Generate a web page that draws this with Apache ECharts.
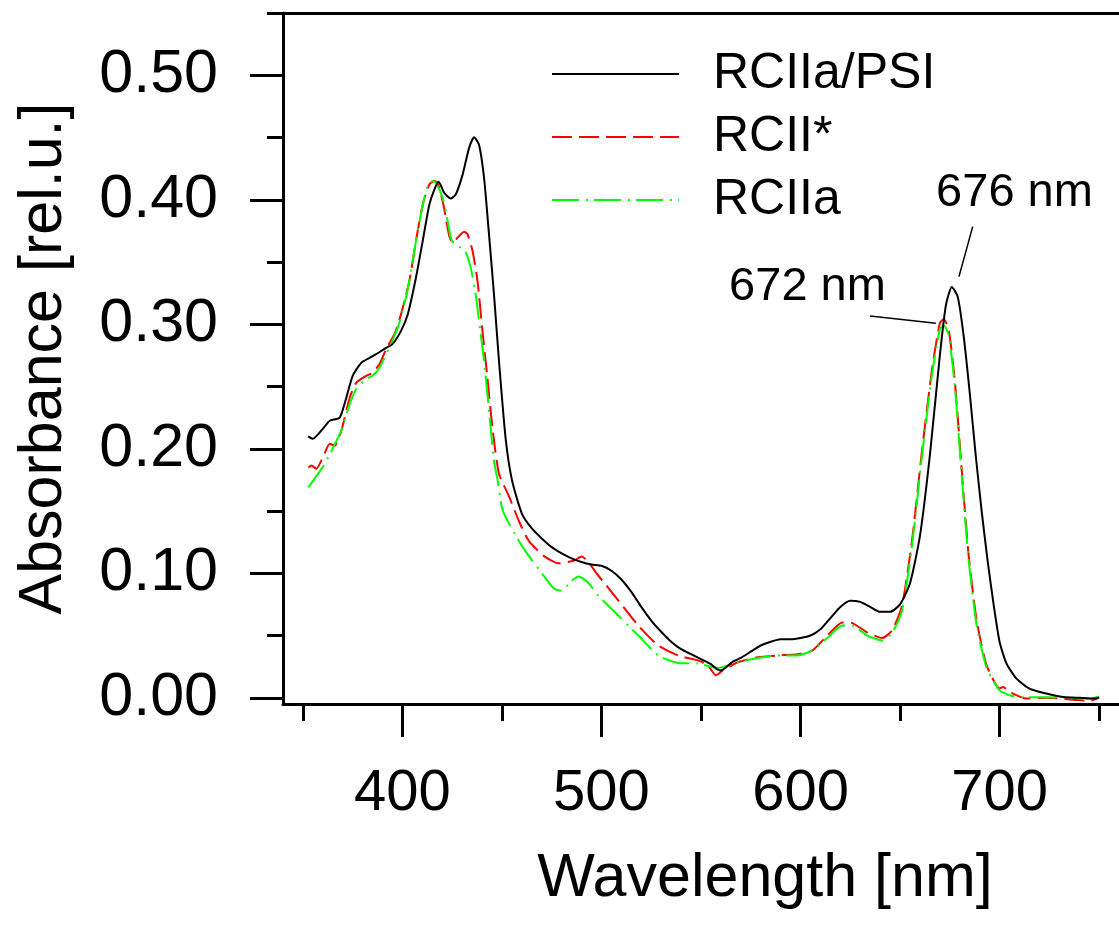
<!DOCTYPE html>
<html>
<head>
<meta charset="utf-8">
<script src="https://cdn.jsdelivr.net/npm/echarts@6/dist/echarts.min.js"></script>
<style>
html,body{margin:0;padding:0;background:#fff;}
#chart{width:1119px;height:941px;}
</style>
</head>
<body>
<div id="chart"></div>
<script>
// ---- Data ----
const seriesNames = ['RCIIa/PSI', 'RCII*', 'RCIIa'];

const psiNm = [352.7,355,360,363.5,368.5,371.8,375,379.3,383.5,386.8,391.8,395,399.3,402.7,406.8,410.2,413.5,416,418.2,421,424.3,426.8,430.2,433.5,436,438.5,441,443.5,446,448.5,451.8,455,460,465,470,475,480,485,490,495,500,505,510,515,520,525,530,535,540,545,550,555,558,560,563,566,570,575,580,585,590,595,600,605,610,615,620,625,630,635,640,645,650,655,660,665,670,673,676,679,682,685,688,691,694,697,700,703.5,708.5,715,723.5,732,740,748.5,750];
const psiAbs = [0.210,0.208,0.216,0.2225,0.225,0.241,0.2586,0.269,0.273,0.276,0.281,0.284,0.2947,0.308,0.3375,0.367,0.396,0.408,0.4144,0.4056,0.401,0.4043,0.420,0.4417,0.4503,0.444,0.4177,0.372,0.324,0.2707,0.209,0.175,0.148,0.136,0.128,0.121,0.116,0.112,0.109,0.107,0.106,0.102,0.095,0.085,0.073,0.062,0.053,0.045,0.039,0.035,0.031,0.027,0.023,0.022,0.025,0.029,0.032,0.037,0.042,0.045,0.047,0.047,0.048,0.050,0.055,0.064,0.073,0.078,0.077,0.073,0.069,0.069,0.075,0.092,0.130,0.195,0.275,0.315,0.330,0.322,0.290,0.245,0.195,0.150,0.110,0.075,0.045,0.0274,0.0154,0.0074,0.0034,0.0006,0.0,-0.0006,0.0004];

const rc2Nm = [352.7,354.3,356.8,360,363.5,366,369.3,373.5,376.8,381.8,385,388.5,391.8,396,399.3,403.5,406.8,410.2,413.5,416,417.7,420.2,421.8,423.5,425.2,426.8,429.3,431,432.7,435.2,437.7,440.2,442.7,445.2,448.5,453.5,458.5,463.5,471,478.5,486,490,498.5,508.5,518.5,528.5,538.5,548.5,553.5,557.5,561,568.5,578.5,588.5,598.5,606,613.5,621,626,633.5,641,646,651,656,661,666,670,672,674.5,677.5,681,684.5,688.5,693.5,700,701.8,705,713.5,723.5,737,745,750];
const rc2Abs = [0.185,0.1865,0.184,0.193,0.204,0.2025,0.2145,0.241,0.253,0.2586,0.261,0.268,0.280,0.292,0.308,0.335,0.367,0.396,0.4123,0.415,0.4136,0.399,0.3856,0.371,0.3655,0.368,0.3723,0.3743,0.3723,0.359,0.335,0.2947,0.257,0.217,0.180,0.162,0.142,0.126,0.114,0.108,0.110,0.1135,0.098,0.078,0.058,0.042,0.034,0.030,0.026,0.018,0.022,0.0285,0.0325,0.034,0.035,0.038,0.050,0.0605,0.060,0.0525,0.048,0.054,0.074,0.126,0.198,0.263,0.301,0.304,0.295,0.2546,0.1825,0.114,0.062,0.026,0.0076,0.0087,0.0047,-0.0006,0.0,-0.0015,-0.0026,0.0004];

const rc2aNm = [352.7,356.8,361,365.2,369.3,373.5,376.8,381.8,385,388.5,391.8,395,399.3,403.5,406.8,410.2,412.7,415.2,416.8,420.2,422.7,424.3,426,429.3,431.8,434.3,436.8,438.5,441,443.5,446,447.7,450.5,458.5,463.5,471,476,480,485,488.5,493,498.5,508.5,518.5,528.5,538.5,548.5,558.5,568.5,578.5,588.5,598.5,606,613.5,621,626,633.5,641,646,651,656,661,666,670,672,674.5,677.5,681,684.5,688.5,693.5,700,705,713.5,723.5,737,745,750];
const rc2aAbs = [0.169,0.178,0.188,0.201,0.2145,0.236,0.248,0.256,0.2586,0.265,0.276,0.2867,0.3054,0.335,0.367,0.396,0.411,0.415,0.4136,0.4016,0.383,0.3695,0.3643,0.3615,0.3575,0.3455,0.324,0.3027,0.2707,0.2306,0.190,0.1758,0.150,0.126,0.114,0.098,0.088,0.086,0.094,0.0975,0.093,0.082,0.066,0.050,0.034,0.028,0.0275,0.024,0.0285,0.032,0.034,0.034,0.038,0.048,0.058,0.058,0.050,0.046,0.052,0.070,0.122,0.194,0.259,0.296,0.299,0.291,0.2506,0.1785,0.110,0.058,0.024,0.006,0.002,0.0004,0.0004,0.0,-0.001,0.001];

const xMajorTicks = [400, 500, 600, 700];
const xMinorTicks = [350, 450, 550, 650, 750];
const yMajorTicks = [0, 0.1, 0.2, 0.3, 0.4, 0.5];
const yMinorTicks = [0.05, 0.15, 0.25, 0.35, 0.45, 0.55];

const peakLabels = ['676 nm', '672 nm'];
const peakLabelAt = [[707.5, 0.405], [603.5, 0.330]];
const peakLeaders = [[[686.5, 0.3784], [679.6, 0.3383]], [[634.9, 0.3067], [668.0, 0.3009]]];

// ---- Build ----
const FONT = 'Liberation Sans';
const zip = (xs, ys) => xs.map((x, i) => [x, ys[i]]);
const axisLineStyle = { color: '#000', width: 3 };

const chart = echarts.init(document.getElementById('chart'), null, { renderer: 'canvas' });

const option = {
  backgroundColor: '#fff',
  animation: false,
  grid: { left: 283, top: 13, width: 840, height: 691, containLabel: false },
  legend: {
    orient: 'vertical',
    left: 551,
    top: 49,
    padding: 0,
    itemWidth: 127,
    itemHeight: 14,
    itemGap: 13,
    itemStyle: { opacity: 0, color: 'transparent', borderWidth: 0 },
    textStyle: { fontFamily: FONT, fontSize: 50, color: '#000', lineHeight: 50, padding: [0, 0, 0, 29] },
    data: seriesNames
  },
  xAxis: [
    {
      type: 'value', min: 340, max: 760, position: 'bottom',
      axisLine: { show: true, onZero: false, lineStyle: axisLineStyle },
      axisTick: { show: true, length: 33, lineStyle: axisLineStyle, customValues: xMajorTicks },
      axisLabel: { customValues: xMajorTicks, fontFamily: FONT, fontSize: 58, color: '#000', margin: 61 },
      splitLine: { show: false },
      name: 'Wavelength [nm]', nameLocation: 'middle', nameGap: 145,
      nameTextStyle: { fontFamily: FONT, fontSize: 61, color: '#000', padding: [0, 0, 0, 128] }
    },
    {
      type: 'value', min: 340, max: 760, position: 'bottom',
      axisLine: { show: false, onZero: false },
      axisTick: { show: true, length: 17, lineStyle: axisLineStyle, customValues: xMinorTicks },
      axisLabel: { show: false },
      splitLine: { show: false }
    },
    {
      type: 'value', min: 340, max: 760, position: 'top',
      axisLine: { show: true, onZero: false, lineStyle: axisLineStyle },
      axisTick: { show: false }, axisLabel: { show: false }, splitLine: { show: false }
    }
  ],
  yAxis: [
    {
      type: 'value', min: -0.005, max: 0.55, position: 'left',
      axisLine: { show: true, onZero: false, lineStyle: axisLineStyle },
      axisTick: { show: true, length: 33, lineStyle: axisLineStyle, customValues: yMajorTicks },
      axisLabel: { customValues: yMajorTicks, fontFamily: FONT, fontSize: 61, color: '#000', margin: 65,
                   formatter: v => v.toFixed(2) },
      splitLine: { show: false },
      name: 'Absorbance [rel.u.]', nameLocation: 'middle', nameGap: 208,
      nameTextStyle: { fontFamily: FONT, fontSize: 61, color: '#000' }
    },
    {
      type: 'value', min: -0.005, max: 0.55, position: 'left',
      axisLine: { show: false, onZero: false },
      axisTick: { show: true, length: 16, lineStyle: axisLineStyle, customValues: yMinorTicks },
      axisLabel: { show: false },
      splitLine: { show: false }
    }
  ],
  series: [
    {
      name: seriesNames[0], type: 'line', xAxisIndex: 0, yAxisIndex: 0,
      data: zip(psiNm, psiAbs), showSymbol: false, symbol: 'none', smooth: 0.2, z: 3,
      lineStyle: { color: '#000', width: 2 }, itemStyle: { color: '#000' },
      markPoint: {
        symbol: 'circle', symbolSize: 0, silent: true,
        label: { show: true, position: 'inside', fontFamily: FONT, fontSize: 47, color: '#000',
                 formatter: p => p.name },
        data: peakLabels.map((t, i) => ({ name: t, coord: peakLabelAt[i] }))
      },
      markLine: {
        symbol: ['none', 'none'], silent: true, label: { show: false },
        lineStyle: { color: '#000', width: 1.5, type: 'solid' },
        data: peakLeaders.map(seg => [{ coord: seg[0] }, { coord: seg[1] }])
      }
    },
    {
      name: seriesNames[1], type: 'line', xAxisIndex: 0, yAxisIndex: 0,
      data: zip(rc2Nm, rc2Abs), showSymbol: false, symbol: 'none', smooth: 0.2, z: 2,
      lineStyle: { color: '#ff0000', width: 2, type: [20, 7] }, itemStyle: { color: '#ff0000' }
    },
    {
      name: seriesNames[2], type: 'line', xAxisIndex: 0, yAxisIndex: 0,
      data: zip(rc2aNm, rc2aAbs), showSymbol: false, symbol: 'none', smooth: 0.2, z: 2,
      lineStyle: { color: '#00ff00', width: 2, type: [27, 7, 2, 6] }, itemStyle: { color: '#00ff00' }
    }
  ]
};
chart.setOption(option);
</script>
</body>
</html>
